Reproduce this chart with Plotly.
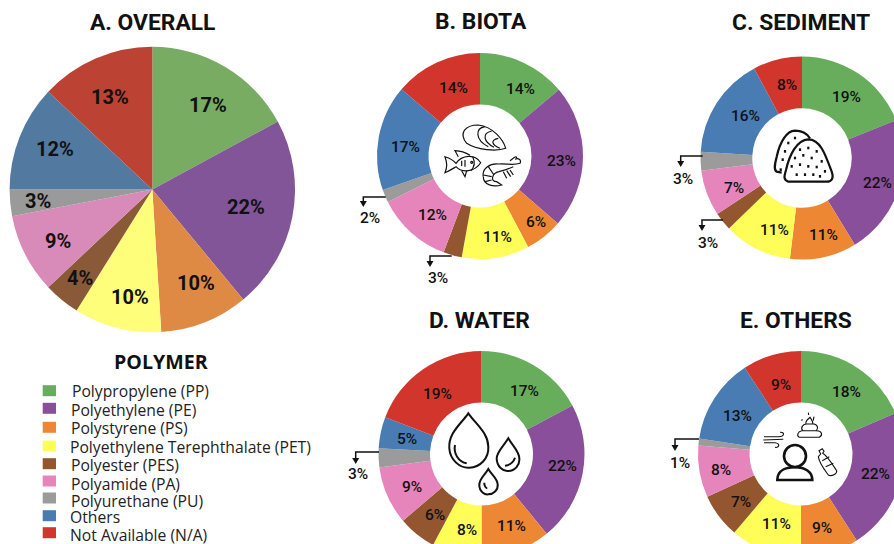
import re
import plotly.graph_objects as go

W, H = 930, 580

polymers = ["Polypropylene (PP)", "Polyethylene (PE)", "Polystyrene (PS)",
            "Polyethylene Terephthalate (PET)", "Polyester (PES)", "Polyamide (PA)",
            "Polyurethane (PU)", "Others", "Not Available (N/A)"]

overall_values = [17.1, 21.9, 10.0, 9.9, 4.1, 9.0, 3.0, 12.0, 13.0]
biota_values = [13.9, 22.5, 5.9, 10.6, 2.9, 11.9, 2.0, 16.6, 13.8]
sediment_values = [18.9, 22.4, 10.6, 10.9, 2.9, 7.3, 3.0, 16.2, 7.8]
water_values = [17.2, 21.9, 10.9, 7.8, 6.0, 9.1, 3.0, 4.9, 19.2]
others_values = [18.5, 22.4, 9.1, 11.2, 7.0, 8.1, 1.1, 13.4, 9.2]

overall_labels = ["17%", "22%", "10%", "10%", "4%", "9%", "3%", "12%", "13%"]
biota_labels = ["14%", "23%", "6%", "11%", "3%", "12%", "2%", "17%", "14%"]
sediment_labels = ["19%", "22%", "11%", "11%", "3%", "7%", "3%", "16%", "8%"]
water_labels = ["17%", "22%", "11%", "8%", "6%", "9%", "3%", "5%", "19%"]
others_labels = ["18%", "22%", "9%", "11%", "7%", "8%", "1%", "13%", "9%"]

colors = ["#67AD5B", "#894F9B", "#EE8733", "#FFFE58", "#94562F", "#E684BC", "#9B9B9B", "#487CB2", "#D1352B"]
colors_a = ["#78AC63", "#825498", "#DE8A45", "#FFFE7A", "#8A5A38", "#D88AB9", "#9A9A9A", "#52799F", "#BC4233"]

# label centres (page pixels), kept apart from the values
pos_a = [(208.3, 104.7), (245.7, 206.7), (196, 283.3), (130, 296.7), (80, 278.3),
         (58.3, 240.7), (37.7, 201), (55, 149.3), (110, 96.7)]
pos_b = [(520, 89.3), (561.7, 161), (536, 222), (497.3, 237), (438, 277.7),
         (432.7, 215), (369.7, 218.3), (405, 147.3), (453.3, 88)]
pos_c = [(846, 97), (877, 183), (823, 235), (774, 230), (708, 243),
         (734, 188), (683, 179), (745, 116), (787, 85)]
pos_d = [(524, 391), (562, 466), (511, 526), (467, 530), (435, 515),
         (412, 487), (358, 474), (407, 439), (437.5, 394)]
pos_e = [(846, 392), (875, 474), (822, 528), (776, 523.5), (741, 502),
         (721, 470), (680, 463), (737, 416), (781, 385)]

panels = [
    ("A. OVERALL", overall_values, overall_labels, pos_a, colors_a, (152.3, 189.5, 142.7), 0, (152, 22), 20, 700),
    ("B. BIOTA", biota_values, biota_labels, pos_b, colors, (480, 156, 103), 0.5, (481, 21), 15.5, 500),
    ("C. SEDIMENT", sediment_values, sediment_labels, pos_c, colors, (802, 158, 101.5), 0.49, (801, 22), 15.5, 500),
    ("D. WATER", water_values, water_labels, pos_d, colors, (481.5, 454, 103), 0.5, (479.5, 320), 15.5, 500),
    ("E. OTHERS", others_values, others_labels, pos_e, colors, (801, 454, 103), 0.5, (796, 320), 15.5, 500),
]

fig = go.Figure()
fig.add_trace(go.Scatter(x=[], y=[], showlegend=False, hoverinfo="skip"))
annotations, shapes = [], []


def text(x, y, s, size, family="Roboto", weight=500, xanchor="center", color="#111111"):
    annotations.append(dict(x=x, y=y, xref="x", yref="y", text=s, showarrow=False,
                            xanchor=xanchor, yanchor="middle",
                            font=dict(family=family, size=size, weight=weight, color=color)))


for title, vals, labs, pos, cols, (cx, cy, r), hole, tpos, fs, fw in panels:
    fig.add_trace(go.Pie(
        labels=polymers, values=vals, marker=dict(colors=cols, line=dict(width=0)),
        sort=False, direction="clockwise", rotation=0, hole=hole, textinfo="none",
        showlegend=False, hoverinfo="label+value",
        domain=dict(x=[(cx - r) / W, (cx + r) / W], y=[1 - (cy + r) / H, 1 - (cy - r) / H]),
    ))
    text(tpos[0], tpos[1], title, 22.8, weight=700, color="#111111")
    for (lx, ly), lab in zip(pos, labs):
        text(lx, ly, lab, fs, weight=fw)

# legend
text(161, 361, "POLYMER", 19.6, family="Open Sans", weight=700)
swatch_y = [390.7, 408.3, 427.3, 446, 463.7, 481, 498, 515.7, 532.7]
label_y = [391, 410, 428, 446.7, 465, 483.7, 500.7, 516.7, 535]
label_x = [69.7, 68.7, 69, 68, 69, 69, 69, 68, 68]
for name, c, sy, ly, lx in zip(polymers, colors, swatch_y, label_y, label_x):
    shapes.append(dict(type="rect", xref="x", yref="y", x0=42.7, x1=56, y0=sy - 5.5, y1=sy + 5.5,
                       fillcolor=c, line=dict(width=0)))
    text(lx, ly, name, 15.7, family="Open Sans", weight=400, xanchor="left", color="#222222")

# leader arrows
leaders = [(385.7, 197, 363.3, 206), (451.7, 256, 430, 266), (702.7, 156, 680.7, 166),
           (723, 220, 702, 230), (379, 452, 355.7, 463), (699, 439, 675, 450)]
for x0, y0, x1, y1 in leaders:
    shapes.append(dict(type="path", xref="x", yref="y", path=f"M {x0} {y0} L {x1} {y0} L {x1} {y1 - 3}",
                       line=dict(color="#111111", width=1.5)))
    shapes.append(dict(type="path", xref="x", yref="y",
                       path=f"M {x1 - 3.5} {y1 - 5} L {x1 + 3.5} {y1 - 5} L {x1} {y1 + 1} Z",
                       fillcolor="#111111", line=dict(width=0)))


# icons, written in the coordinates of a 3x crop
def icon(path, ox, oy, width=1.3):
    def conv(m):
        return f"{float(m.group(1)) / 3 + ox:.1f} {float(m.group(2)) / 3 + oy:.1f}"
    p = re.sub(r"(-?\d+\.?\d*) (-?\d+\.?\d*)", conv, path)
    shapes.append(dict(type="path", xref="x", yref="y", path=p, layer="above",
                       line=dict(color="#111111", width=width), fillcolor="rgba(0,0,0,0)"))


def circle(cx, cy, r):
    k = 0.552 * r
    return (f"M {cx - r} {cy} C {cx - r} {cy - k} {cx - k} {cy - r} {cx} {cy - r} "
            f"C {cx + k} {cy - r} {cx + r} {cy - k} {cx + r} {cy} "
            f"C {cx + r} {cy + k} {cx + k} {cy + r} {cx} {cy + r} "
            f"C {cx - k} {cy + r} {cx - r} {cy + k} {cx - r} {cy} Z")


# biota: mussel, fish, shrimp
for p in ["M 467 445 C 440 455 380 450 350 430 C 325 400 345 375 385 375 C 430 380 460 420 467 445 Z",
          "M 415 440 C 375 420 375 385 405 380", "M 432 442 C 400 425 395 400 425 393",
          "M 450 445 C 425 435 420 420 445 415",
          "M 285 470 C 300 475 310 480 318 490 C 335 465 375 460 392 488 C 375 515 335 520 318 500 C 310 505 300 512 285 518 C 292 500 292 490 285 470 Z",
          "M 325 470 L 315 452 C 335 453 350 460 360 466", "M 335 512 L 345 530 L 350 512",
          "M 368 470 C 375 485 375 500 362 512", "M 345 480 L 345 500", "M 335 482 L 335 498",
          "M 400 530 C 395 505 420 490 445 492 C 470 490 490 497 510 490 C 515 480 505 472 495 478",
          "M 400 530 C 400 555 430 562 455 555 L 440 545 C 420 545 425 520 447 515 C 465 510 480 505 490 500",
          "M 415 500 L 432 525", "M 400 525 L 425 530", "M 405 545 L 425 540",
          "M 460 515 L 470 535", "M 470 512 L 482 530", "M 480 510 L 490 525",
          "M 480 482 C 490 475 500 465 500 475", circle(365, 487, 3)]:
    icon(p, 350, 0, 1.2)

# sediment: two rock heaps
for p in ["M 365 518 L 350 515 C 340 510 345 490 350 470 C 360 425 380 393 405 392 C 425 392 440 400 450 415",
          "M 385 545 C 370 540 372 530 378 510 C 388 465 410 420 445 418 C 480 418 495 460 515 515 C 522 535 515 545 500 545 Z"]:
    icon(p, 660, 0, 2.2)
dots = [(405, 410), (385, 425), (375, 450), (368, 475), (362, 505), (420, 445), (445, 440), (470, 450),
        (405, 470), (430, 462), (455, 470), (485, 480), (395, 495), (420, 490), (445, 495), (470, 497),
        (495, 510), (410, 520), (435, 520), (460, 520), (480, 525)]
for dx, dy in dots:
    icon(f"M {dx} {dy} L {dx} {dy + 8}", 660, 0, 2.2)

# water: three drops
for p in ["M 385 340 C 360 375 325 400 328 445 C 330 480 360 505 388 503 C 420 503 447 475 445 440 C 445 400 410 375 385 340 Z",
          "M 345 435 C 340 460 355 485 380 490",
          "M 505 415 C 490 440 470 455 470 475 C 470 500 490 515 505 513 C 525 513 540 495 538 475 C 538 455 520 440 505 415 Z",
          "M 495 497 C 510 495 520 488 525 473",
          "M 445 507 C 435 525 418 535 418 555 C 418 575 435 585 445 583 C 460 583 475 570 473 553 C 472 535 455 525 445 507 Z",
          "M 433 548 C 432 560 440 565 442 565"]:
    icon(p, 340, 300, 2.0)

# others: person, wind, waste, bottle
icon(circle(405, 468, 33), 660, 300, 2.6)
icon("M 352 540 C 352 510 380 502 405 502 C 435 502 457 515 457 540 Z", 660, 300, 2.6)
for p in ["M 312 410 L 355 410 C 375 410 375 395 360 397", "M 310 420 L 370 418",
          "M 312 428 L 345 428 C 362 430 358 445 345 442",
          "M 418 412 L 478 412 C 490 405 485 392 470 392 L 425 392 C 412 395 410 408 418 412 Z",
          "M 428 392 C 420 382 430 372 440 372 L 462 372 C 475 375 475 388 468 392",
          "M 438 372 C 435 362 445 358 450 352 C 455 360 460 365 458 372",
          "M 445 338 L 446 345", "M 462 350 L 460 362", "M 425 362 L 427 358",
          "M 477 452 L 487 446 L 492 454 L 488 460 C 500 465 515 490 530 512 C 532 522 515 530 505 525 C 490 505 478 490 475 470 L 482 462 Z",
          "M 487 482 L 508 470", "M 497 500 L 520 490"]:
    icon(p, 660, 300, 1.1)

hidden = dict(visible=False, fixedrange=True)
fig.update_layout(
    width=W, height=H, autosize=False, margin=dict(l=0, r=0, t=0, b=0),
    paper_bgcolor="white", plot_bgcolor="white", showlegend=False,
    xaxis=dict(range=[0, W], domain=[0, 1], **hidden),
    yaxis=dict(range=[H, 0], domain=[0, 1], **hidden),
    annotations=annotations, shapes=shapes,
)
fig.write_html("out.html", config=dict(displayModeBar=False, responsive=False),
               post_script="document.body.style.margin='0';document.body.style.overflow='hidden';"
                           "document.documentElement.style.overflow='hidden';")
